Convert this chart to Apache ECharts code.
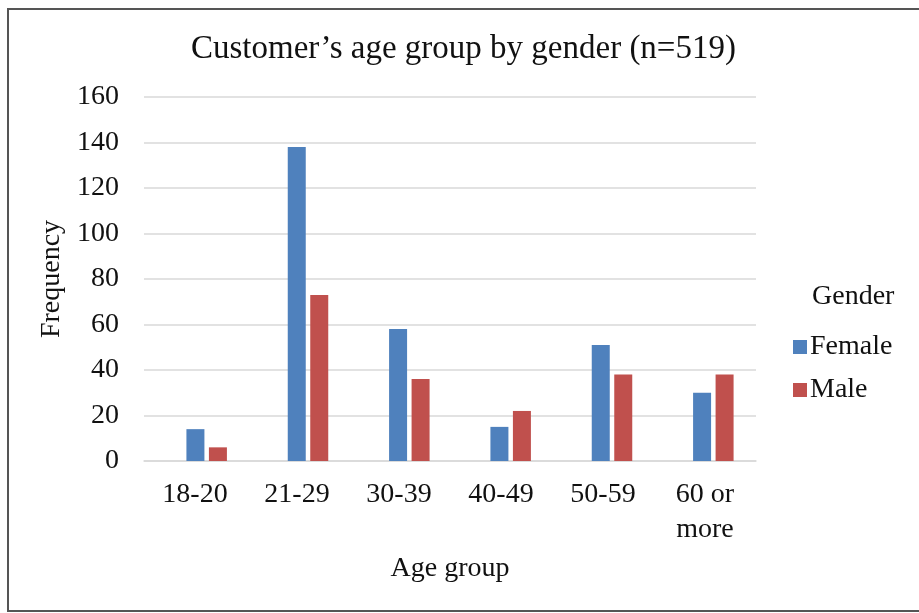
<!DOCTYPE html>
<html>
<head>
<meta charset="utf-8">
<script src="https://cdn.jsdelivr.net/npm/echarts@6/dist/echarts.min.js"></script>
<style>
html,body{margin:0;padding:0;background:#fff;}
#chart{width:919px;height:613px;}
</style>
</head>
<body>
<div id="chart"></div>
<script>
const categories = ['18-20', '21-29', '30-39', '40-49', '50-59', '60 or\nmore'];
const female = [14, 138, 58, 15, 51, 30];
const male = [6, 73, 36, 22, 38, 38];
const yTicks = { min: 0, max: 160, interval: 20 };
const titleText = 'Customer\u2019s age group by gender (n=519)';
const legendTitle = 'Gender';
const seriesNames = ['Female', 'Male'];
const xName = 'Age group';
const yName = 'Frequency';

const FONT = '"Liberation Serif", "Times New Roman", serif';
const TXT = '#111';
const chart = echarts.init(document.getElementById('chart'), null, { renderer: 'canvas' });
chart.setOption({
  backgroundColor: '#fff',
  animation: false,
  color: ['#4F81BD', '#C0504D'],
  title: [
    { text: titleText, left: 186, top: 28,
      textStyle: { fontFamily: FONT, fontSize: 33, fontWeight: 'normal', color: TXT } },
    { text: legendTitle, left: 807, top: 278,
      textStyle: { fontFamily: FONT, fontSize: 28, fontWeight: 'normal', color: TXT } }
  ],
  graphic: [{
    type: 'rect', silent: true, z: -1,
    shape: { x: 8, y: 9, width: 930, height: 602 },
    style: { fill: 'none', stroke: '#555', lineWidth: 2 }
  }],
  legend: {
    orient: 'vertical', left: 788, top: 328,
    itemWidth: 14, itemHeight: 14, itemGap: 15,
    icon: 'rect',
    textStyle: { fontFamily: FONT, fontSize: 28, lineHeight: 28, color: TXT, padding: [0, 0, 0, -2] },
    data: seriesNames
  },
  grid: [
    { left: 144, right: 163, top: 97, bottom: 152 },
    { left: 156, right: 155, top: 97, bottom: 152 }
  ],
  xAxis: [{
    type: 'category', data: categories, gridIndex: 0,
    name: xName, nameLocation: 'middle', nameGap: 94,
    nameTextStyle: { fontFamily: FONT, fontSize: 28, color: TXT },
    axisLine: { lineStyle: { color: '#d9d9d9', width: 1.5 } },
    axisTick: { show: false },
    axisLabel: { fontFamily: FONT, fontSize: 28, color: TXT, margin: 16, lineHeight: 35, interval: 0 }
  }, {
    type: 'category', data: categories, gridIndex: 1, show: false
  }],
  yAxis: [{
    type: 'value', gridIndex: 0, min: yTicks.min, max: yTicks.max, interval: yTicks.interval,
    name: yName, nameLocation: 'middle', nameGap: 73, nameRotate: 90,
    nameTextStyle: { fontFamily: FONT, fontSize: 28, color: TXT },
    axisLine: { show: false }, axisTick: { show: false },
    splitLine: { lineStyle: { color: '#d9d9d9', width: 1.5 } },
    axisLabel: { fontFamily: FONT, fontSize: 28, color: TXT, margin: 25 }
  }, {
    type: 'value', gridIndex: 1, min: yTicks.min, max: yTicks.max, interval: yTicks.interval, show: false
  }],
  series: [
    { name: seriesNames[0], type: 'bar', xAxisIndex: 1, yAxisIndex: 1, data: female, barWidth: 18, barGap: '25%' },
    { name: seriesNames[1], type: 'bar', xAxisIndex: 1, yAxisIndex: 1, data: male, barWidth: 18, barGap: '25%' }
  ]
});
</script>
</body>
</html>
